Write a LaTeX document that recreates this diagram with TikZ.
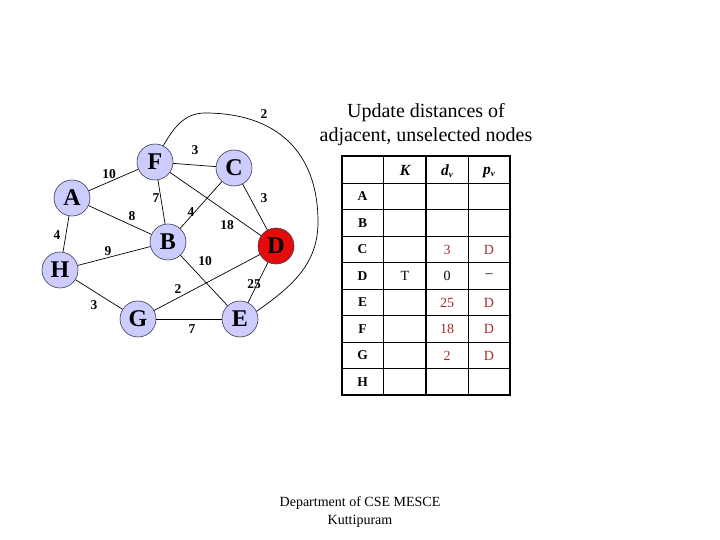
\documentclass[tikz,border=0pt]{standalone}
\usepackage{fontspec}
\setmainfont{Liberation Serif}
\definecolor{nodefill}{RGB}{204,204,255}
\definecolor{nodeline}{RGB}{60,60,80}
\definecolor{dred}{RGB}{230,10,10}
\definecolor{valred}{RGB}{165,45,45}
\begin{document}
\begin{tikzpicture}[x=1pt,y=-1pt,
  vert/.style={circle,draw=nodeline,line width=0.6pt,fill=nodefill,minimum size=36pt,inner sep=0pt,font=\fontsize{24}{24}\selectfont\bfseries},
  sel/.style={vert,fill=dred},
  wt/.style={font=\fontsize{13.5}{14}\selectfont\bfseries,inner sep=0pt},
  edge/.style={line width=0.7pt},
  cell/.style={font=\fontsize{14}{14}\selectfont,inner sep=0pt},
  rowlab/.style={font=\fontsize{13.5}{14}\selectfont\bfseries,inner sep=0pt},
  val/.style={cell,text=valred},
  hdr/.style={font=\fontsize{15.5}{16}\selectfont\bfseries\itshape,inner sep=0pt}]
\useasboundingbox (0,0) rectangle (720,540);
\fill[white] (0,0) rectangle (720,540);
% vertices
\node[vert] (F) at (155,162) {F};
\node[vert] (C) at (234,168) {C};
\node[vert] (A) at (72,198) {A};
\node[vert] (B) at (168,242) {B};
\node[sel]  (D) at (276,246) {D};
\node[vert] (H) at (60,270) {H};
\node[vert] (G) at (138,319) {G};
\node[vert] (E) at (240,319) {E};
% edges
\draw[edge] (A) -- (F);
\draw[edge] (A) -- (B);
\draw[edge] (A) -- (H);
\draw[edge] (F) -- (C);
\draw[edge] (F) -- (B);
\draw[edge] (F) -- (D);
\draw[edge] (C) -- (B);
\draw[edge] (C) -- (D);
\draw[edge] (H) -- (B);
\draw[edge] (B) -- (E);
\draw[edge] (D) -- (G);
\draw[edge] (D) -- (E);
\draw[edge] (H) -- (G);
\draw[edge] (G) -- (E);
\coordinate (peak) at (205,113);
\coordinate (rside) at (318,222);
\draw[edge] (F.63) to[out=60,in=180] (peak) to[out=0,in=90,looseness=1.15] (rside) to[out=-90,in=35] (E.25);
% weights
\node[wt] (w1) at (264,114) {2};
\node[wt] (w2) at (195,150) {3};
\node[wt] (w3) at (109,174) {10};
\node[wt] (w4) at (156,198) {7};
\node[wt] (w5) at (264,198) {3};
\node[wt] (w6) at (132,216) {8};
\node[wt] (w7) at (191,212) {4};
\node[wt] (w8) at (227,225) {18};
\node[wt] (w9) at (57,235) {4};
\node[wt] (w10) at (108,251) {9};
\node[wt] (w11) at (205,261) {10};
\node[wt] (w12) at (178,289) {2};
\node[wt] (w13) at (254,284) {25};
\node[wt] (w14) at (94,305) {3};
\node[wt] (w15) at (192,329) {7};
% title
\node[font=\fontsize{20}{24}\selectfont,align=center,inner sep=0pt] (title) at (426,125) {Update distances of\\adjacent, unselected nodes};
% table
\foreach \y in {183.3,209.8,236.3,262.8,289.2,315.7,342.2,368.7}
  \draw[line width=1.2pt] (341.7,\y) -- (510,\y);
\foreach \x in {383.3,426,468.3}
  \draw[line width=1.2pt] (\x,156) -- (\x,395);
\draw[line width=1.8pt] (341.7,156) rectangle (510,395);
\node[hdr] (hK) at (405,170) {K};
\node[hdr] (hd) at (447,171) {d\raisebox{-2.5pt}{\fontsize{9}{9}\selectfont v}};
\node[hdr] (hp) at (489,172) {p\raisebox{-2.5pt}{\fontsize{9}{9}\selectfont v}};
\foreach \l [count=\i] in {A,B,C,D,E,F,G,H}
  \node[rowlab] (r\l) at (362.5,{183.3+26.46*(\i-0.5)}) {\l};
\node[val] (dC) at (447,249.5) {3};
\node[val] (pC) at (489,249.5) {D};
\node[cell] (kD) at (405,276) {T};
\node[cell] (dD) at (447,276) {0};
\node[cell] (pD) at (489,276) {--};
\node[val] (dE) at (447,302.5) {25};
\node[val] (pE) at (489,302.5) {D};
\node[val] (dF) at (447,329) {18};
\node[val] (pF) at (489,329) {D};
\node[val] (dG) at (447,355.5) {2};
\node[val] (pG) at (489,355.5) {D};
% footer
\node[font=\fontsize{14}{18}\selectfont,align=center,inner sep=0pt] (foot) at (360,512) {Department of CSE MESCE\\Kuttipuram};
\end{tikzpicture}
\end{document}
